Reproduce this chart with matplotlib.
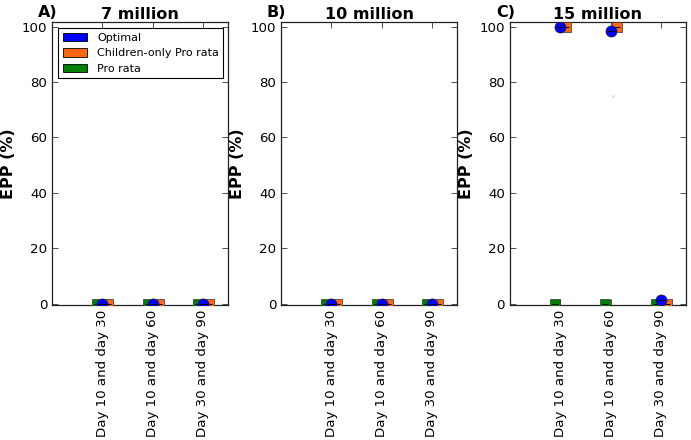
import matplotlib
matplotlib.use("Agg")
import matplotlib.pyplot as plt
from matplotlib.patches import Patch
import numpy as np

BLUE = "#0000ff"
ORANGE = "#ff6611"
GREEN = "#008000"

categories = ["Day 10 and day 30", "Day 10 and day 60", "Day 30 and day 90"]
panel_letters = ["A)", "B)", "C)"]
panel_titles = ["7 million", "10 million", "15 million"]

# EPP (%) per panel, one value per category
optimal = [[0, 0, 0], [0, 0, 0], [100, 98.4, 1.4]]
children_only = [[0, 0, 0], [0, 0, 0], [100, 100, 0]]
pro_rata = [[0, 0, 0], [0, 0, 0], [0, 0, 0]]

# faint stray point visible in panel C
stray_x = [2.05]
stray_y = [75]

plt.rcParams["font.family"] = ["DejaVu Sans"]
plt.rcParams["xtick.direction"] = "in"
plt.rcParams["ytick.direction"] = "in"

fig = plt.figure(figsize=(6.91, 4.40), dpi=100)
lefts = [0.0753, 0.4067, 0.738]
x = np.arange(1, len(categories) + 1)

for i in range(3):
    ax = fig.add_axes([lefts[i], 0.307, 0.2547, 0.643])
    ax.plot(x - 0.10, pro_rata[i], "s", color=GREEN, markersize=7.8,
            markeredgecolor="#333333", markeredgewidth=0.5, zorder=3)
    ax.plot(x + 0.12, children_only[i], "s", color=ORANGE, markersize=7.8,
            markeredgecolor="#333333", markeredgewidth=0.5, zorder=3)
    ax.plot(x - 0.10, pro_rata[i], "_", color="black", markersize=5, markeredgewidth=0.7, zorder=4)
    ax.plot(x + 0.12, children_only[i], "_", color="black", markersize=5, markeredgewidth=0.7, zorder=4)
    ax.plot(x, optimal[i], "o", color=BLUE, markersize=8,
            markeredgecolor="#222222", markeredgewidth=0.5, zorder=5)
    ax.plot(x, optimal[i], "_", color="black", markersize=6, markeredgewidth=0.7, zorder=6)
    if i == 2:
        ax.plot(stray_x, stray_y, "o", color="#dddddd", markersize=2, markeredgewidth=0, zorder=2)

    ax.set_xlim(0, 3.5)
    ax.set_ylim(-0.5, 101.7)
    ax.set_xticks(x)
    ax.set_xticklabels(categories, rotation=90, fontsize=9.6)
    ax.set_yticks([0, 20, 40, 60, 80, 100])
    ax.tick_params(axis="y", labelsize=9.6)
    ax.tick_params(top=True, right=True, length=4, width=0.6, color="#333333")
    for spine in ax.spines.values():
        spine.set_color("#222222")
        spine.set_linewidth(0.9)
    ax.set_ylabel("EPP (%)", fontsize=11.5, fontweight="bold", labelpad=4)
    ax.set_title(panel_titles[i], fontsize=11.5, fontweight="bold", pad=2)
    ax.text(0.03, 1.008, panel_letters[i], transform=ax.transAxes, ha="right", va="bottom",
            fontsize=11.5, fontweight="bold")

    if i == 0:
        handles = [
            Patch(facecolor=BLUE, edgecolor="black", linewidth=0.6, label="Optimal"),
            Patch(facecolor=ORANGE, edgecolor="black", linewidth=0.6, label="Children-only Pro rata"),
            Patch(facecolor=GREEN, edgecolor="black", linewidth=0.6, label="Pro rata"),
        ]
        leg = ax.legend(handles=handles, loc="upper left", fontsize=8, fancybox=False,
                        framealpha=1, edgecolor="black", borderaxespad=0.55, borderpad=0.4,
                        handlelength=2.2, handleheight=0.8, labelspacing=0.5, handletextpad=0.9)
        leg.get_frame().set_linewidth(0.8)

fig.savefig("out.png", dpi=100)
